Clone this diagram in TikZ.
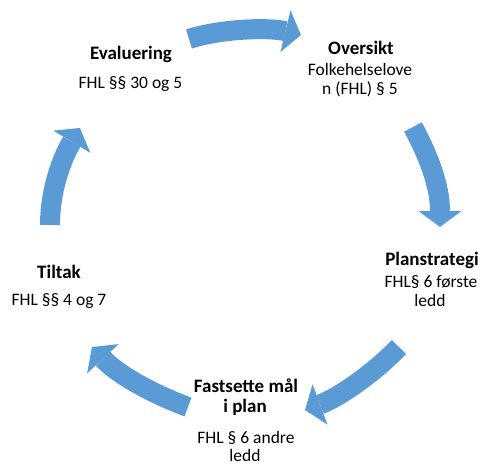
\documentclass[tikz,border=0pt]{standalone}
\usepackage{fontspec}
\setmainfont{Carlito}
\usetikzlibrary{arrows.meta}
\definecolor{cyc}{HTML}{5B9BD5}
\begin{document}
\begin{tikzpicture}[x=1pt,y=-1pt,
 cycarrow/.style={draw=cyc, line width=20pt, -{Triangle[width=43pt,length=16pt,line width=0pt]}},
 ttl/.style={anchor=base, inner sep=0pt, font=\fontsize{19}{21}\selectfont\bfseries},
 sub/.style={anchor=base, inner sep=0pt, font=\fontsize{17.5}{19}\selectfont}]
\useasboundingbox (0,0) rectangle (480,465);
% arrows
\coordinate (a1s) at (189,39);  \coordinate (a1e) at (301,35);
\coordinate (a2s) at (413,127); \coordinate (a2e) at (440,227);
\coordinate (a3s) at (399,347); \coordinate (a3e) at (305,410);
\coordinate (a4s) at (188,407); \coordinate (a4e) at (92,347);
\coordinate (a5s) at (50,225);  \coordinate (a5e) at (80,128);
\draw[cycarrow] (a1s) .. controls (220,29) and (268,27) .. (a1e);
\draw[cycarrow] (a2s) .. controls (428,155) and (440,185) .. (a2e);
\draw[cycarrow] (a3s) .. controls (375,372) and (340,397) .. (a3e);
\draw[cycarrow] (a4s) .. controls (155,395) and (118,375) .. (a4e);
\draw[cycarrow] (a5s) .. controls (50,190) and (62,158) .. (a5e);
% labels
\node[ttl] (evT) at (131,60) {Evaluering};
\node[sub] (evS) at (130.5,89) {FHL §§ 30 og 5};
\node[ttl] (ovT) at (361,55) {Oversikt};
\node[sub] (ovS1) at (360,76) {Folkehelselove};
\node[sub] (ovS2) at (360,95) {n (FHL) § 5};
\node[ttl] (plT) at (432,266) {Planstrategi};
\node[sub] (plS1) at (431,288) {FHL§ 6 første};
\node[sub] (plS2) at (430,307) {ledd};
\node[ttl] (tiT) at (59,279) {Tiltak};
\node[sub] (tiS) at (59,306) {FHL §§ 4 og 7};
\node[ttl] (faT1) at (246,393) {Fastsette mål};
\node[ttl] (faT2) at (245,413) {i plan};
\node[sub] (faS1) at (246,443) {FHL § 6 andre};
\node[sub] (faS2) at (245,462) {ledd};
\end{tikzpicture}
\end{document}
